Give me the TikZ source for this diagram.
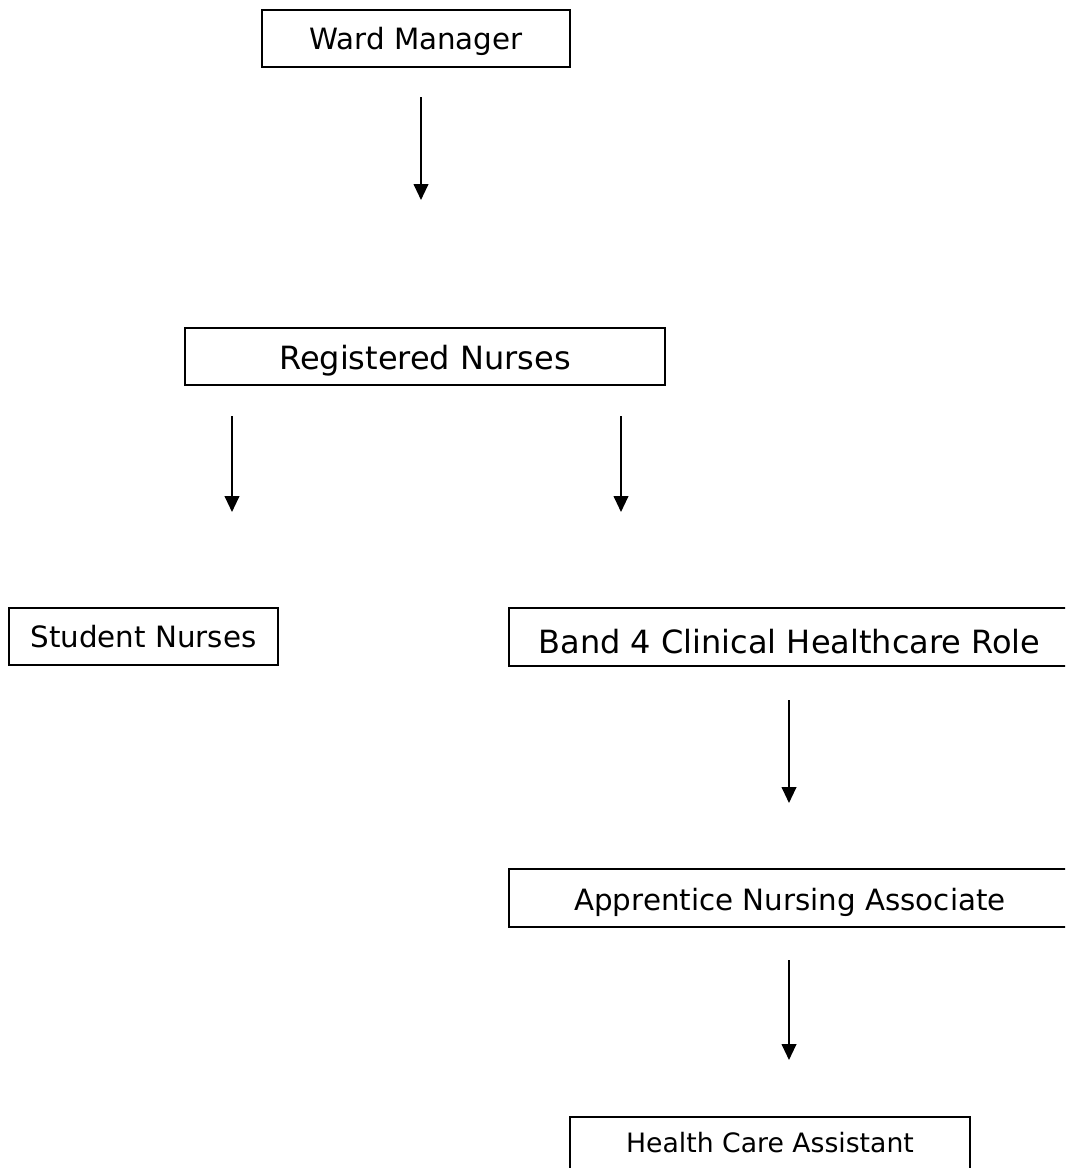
\documentclass[tikz,border=0pt]{standalone}
\usepackage{fontspec}
\setmainfont{DejaVu Sans}
\usepackage{tikz}
\usetikzlibrary{arrows.meta}

\begin{document}
\begin{tikzpicture}[>={Triangle[length=12pt,width=11pt]}, x=0.75pt, y=-0.75pt,
    role/.style={draw, line width=1.5pt, inner sep=0pt, text depth=0pt,
      minimum height=43pt, font=\fontsize{22pt}{26pt}\selectfont},
    rolebig/.style={role, font=\fontsize{24pt}{28pt}\selectfont},
    link/.style={->, line width=1.5pt}]
  \clip (0,0) rectangle (1065,1168);
  % boxes, placed at pixel centres of the chart
  \node[role, minimum width=231pt, text height=17pt] (wm) at (416,38.5) {Ward Manager};
  \node[rolebig, minimum width=360pt, text height=20pt] (rn) at (425,356.5) {Registered Nurses};
  \node[role, minimum width=202pt, text height=17pt] (sn) at (143.5,636.5) {Student Nurses};
  \node[rolebig, minimum width=421pt, minimum height=43.5pt, text height=24pt] (b4) at (789.5,637) {Band 4 Clinical Healthcare Role};
  \node[role, minimum width=421pt, minimum height=43.5pt, text height=18pt] (an) at (790,898) {Apprentice Nursing Associate};
  \node[role, minimum width=300pt, minimum height=43.5pt, text height=9pt,
    font=\fontsize{20pt}{24pt}\selectfont] (hca) at (770,1146) {Health Care Assistant};
  % arrows float between the boxes
  \coordinate (wm-out) at (421,97);   \coordinate (rn-in) at (421,200);
  \coordinate (rn-outl) at (232,416); \coordinate (sn-in) at (232,512);
  \coordinate (rn-outr) at (621,416); \coordinate (b4-in) at (621,512);
  \coordinate (b4-out) at (789,700);  \coordinate (an-in) at (789,803);
  \coordinate (an-out) at (789,960);  \coordinate (hca-in) at (789,1060);
  \draw[link] (wm-out) -- (rn-in);
  \draw[link] (rn-outl) -- (sn-in);
  \draw[link] (rn-outr) -- (b4-in);
  \draw[link] (b4-out) -- (an-in);
  \draw[link] (an-out) -- (hca-in);
\end{tikzpicture}
\end{document}
